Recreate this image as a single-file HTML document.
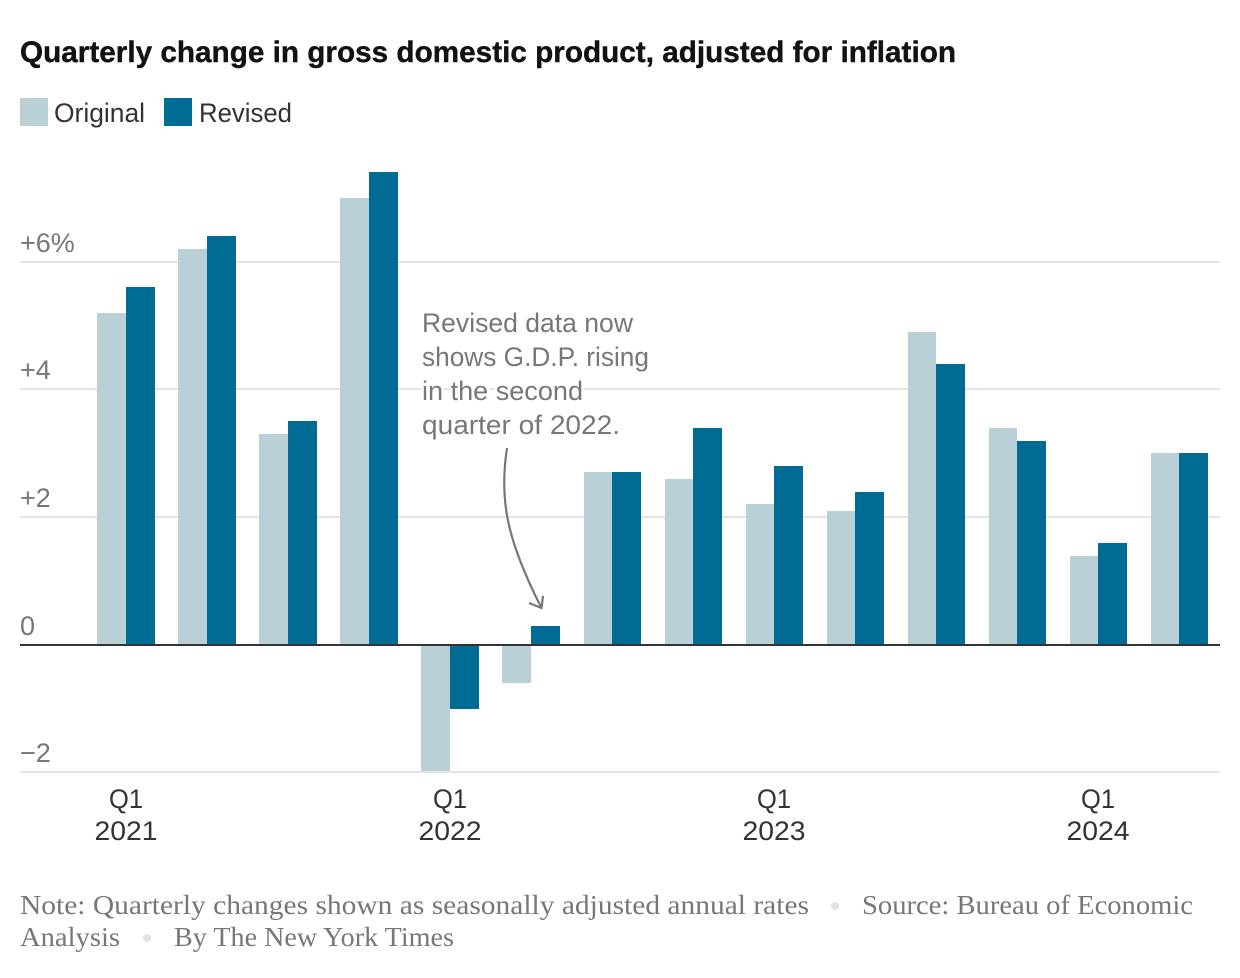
<!DOCTYPE html>
<html lang="en">
<head>
<meta charset="utf-8">
<title>Quarterly change in gross domestic product, adjusted for inflation</title>
<style>
html,body{margin:0;padding:0;background:#fff;width:1240px;height:978px;overflow:hidden}
svg{display:block}
text{font-family:"Liberation Sans",sans-serif}
.serif{font-family:"Liberation Serif",serif}
</style>
</head>
<body>
<svg id="chart" xmlns="http://www.w3.org/2000/svg" width="1240" height="978" viewBox="0 0 1240 978">
  <text x="20" y="62" font-size="30" font-weight="700" fill="#121212" stroke="#121212" stroke-width="0.4" textLength="936" lengthAdjust="spacingAndGlyphs">Quarterly change in gross domestic product, adjusted for inflation</text>
  <rect x="20" y="98" width="28" height="28" fill="#b9d0d7"/>
  <text x="54" y="122" font-size="27" fill="#333" textLength="91" lengthAdjust="spacingAndGlyphs">Original</text>
  <rect x="164" y="98" width="28" height="28" fill="#006c93"/>
  <text x="199" y="122" font-size="27" fill="#333" textLength="93" lengthAdjust="spacingAndGlyphs">Revised</text>
  <g id="grid"></g>
  <g id="bars"></g>
  <g id="gridTop"></g>
  <g id="xaxis"></g>
  <g font-size="27" fill="#777" stroke="#fff" stroke-width="5" paint-order="stroke" stroke-linejoin="round">
    <text x="422" y="332" textLength="211" lengthAdjust="spacingAndGlyphs">Revised data now</text>
    <text x="422" y="366" textLength="227" lengthAdjust="spacingAndGlyphs">shows G.D.P. rising</text>
    <text x="422" y="400" textLength="161" lengthAdjust="spacingAndGlyphs">in the second</text>
    <text x="422" y="434" textLength="198" lengthAdjust="spacingAndGlyphs">quarter of 2022.</text>
  </g>
  <path d="M507 448 C499 500 507 540 541 607" fill="none" stroke="#777" stroke-width="2.2"/>
  <path d="M529 603 L541.5 608 L543 596" fill="none" stroke="#777" stroke-width="2.2"/>
  <g font-size="27" fill="#777">
    <text class="serif" x="20" y="914" textLength="789" lengthAdjust="spacingAndGlyphs">Note: Quarterly changes shown as seasonally adjusted annual rates</text>
    <circle cx="835" cy="906" r="4" fill="#e2e2e2"/>
    <text class="serif" x="862" y="914" textLength="331" lengthAdjust="spacingAndGlyphs">Source: Bureau of Economic</text>
    <text class="serif" x="20" y="946" textLength="100" lengthAdjust="spacingAndGlyphs">Analysis</text>
    <circle cx="147" cy="938" r="4" fill="#e2e2e2"/>
    <text class="serif" x="174" y="946" textLength="280" lengthAdjust="spacingAndGlyphs">By The New York Times</text>
  </g>
</svg>
<script>
const quarters = ["Q1 2021","Q2 2021","Q3 2021","Q4 2021","Q1 2022","Q2 2022","Q3 2022","Q4 2022","Q1 2023","Q2 2023","Q3 2023","Q4 2023","Q1 2024","Q2 2024"];
const originalValues = [5.2,6.2,3.3,7.0,-2.0,-0.6,2.7,2.6,2.2,2.1,4.9,3.4,1.4,3.0];
const revisedValues = [5.6,6.4,3.5,7.4,-1.0,0.3,2.7,3.4,2.8,2.4,4.4,3.2,1.6,3.0];
const yTicks = [6,4,2,0,-2];
const yTickLabels = ["+6%","+4","+2","0","\u22122"];
const xTickLabels = [["Q1","2021"],null,null,null,["Q1","2022"],null,null,null,["Q1","2023"],null,null,null,["Q1","2024"],null];

const NS = "http://www.w3.org/2000/svg";
const yScale = v => Math.round(645 - v * 63.9);
const gridScale = v => Math.round(644.6 - v * 63.8);
const BAR_W = 28.62;
const xStart = i => 97.28 + i * 81.04;
const xCenter = i => xStart(i) + BAR_W;

function make(tag, attrs, parent, txt) {
  const el = document.createElementNS(NS, tag);
  for (const k in attrs) el.setAttribute(k, attrs[k]);
  if (txt !== undefined) el.textContent = txt;
  parent.appendChild(el);
  return el;
}

const grid = document.getElementById("grid");
const gridTop = document.getElementById("gridTop");
yTicks.forEach((t, i) => {
  if (t !== 0) {
    const ln = make("line", {x1:20, x2:1220, y1:gridScale(t), y2:gridScale(t), stroke:"#e4e4e4", "stroke-width":2}, t < 0 ? gridTop : grid);
    
    
  }
  const lb = make("text", {x:20, y:gridScale(t)-10, "font-size":27, fill:"#777"}, grid, yTickLabels[i]);
  
  
});

const bars = document.getElementById("bars");
function drawBar(v, x0, x1, color, name) {
  const top = Math.min(yScale(v), yScale(0));
  const h = Math.abs(yScale(v) - yScale(0));
  const r = make("rect", {x:Math.round(x0), y:top, width:Math.round(x1)-Math.round(x0), height:h, fill:color}, bars);
  
  
}
quarters.forEach((q, i) => {
  drawBar(originalValues[i], xStart(i), xCenter(i), "#b9d0d7", "bar-original");
  drawBar(revisedValues[i], xCenter(i), xCenter(i) + BAR_W, "#006c93", "bar-revised");
});

const zero = make("line", {x1:20, x2:1220, y1:yScale(0), y2:yScale(0), stroke:"#333", "stroke-width":2}, bars);



const xaxis = document.getElementById("xaxis");
xTickLabels.forEach((pair, i) => {
  if (!pair) return;
  const cx = Math.round(xCenter(i));
  const a = make("text", {x:cx, y:808, "font-size":27, fill:"#333", "text-anchor":"middle", textLength:34, lengthAdjust:"spacingAndGlyphs"}, xaxis, pair[0]);
  
  
  const b = make("text", {x:cx, y:840, "font-size":27, fill:"#333", "text-anchor":"middle", textLength:63, lengthAdjust:"spacingAndGlyphs"}, xaxis, pair[1]);
  
  
});
</script>
</body>
</html>
